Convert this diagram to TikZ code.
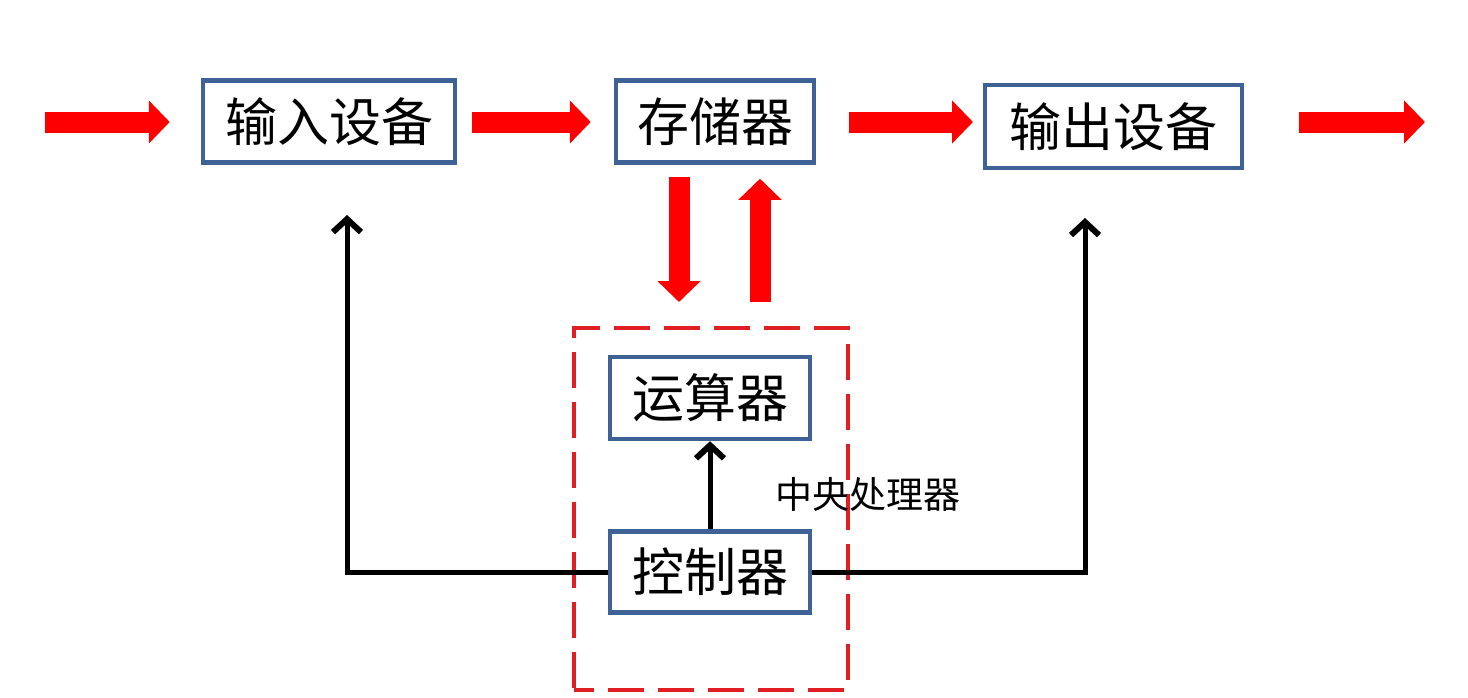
\documentclass[tikz,border=0pt]{standalone}
\usepackage{fontspec}
\setmainfont{Noto Sans CJK SC}
\usetikzlibrary{arrows.meta}
\definecolor{boxblue}{RGB}{62,98,150}
\definecolor{dashred}{RGB}{225,30,35}
\tikzset{
  unitbox/.style={draw=boxblue, line width=4.5pt, fill=white, inner sep=0pt,
    font=\fontsize{52}{60}\selectfont},
  fatarrow/.style={draw=red, line width=21pt,
    -{Triangle[length=21pt,width=42pt,fill=red,color=red]}},
  ctrlline/.style={draw=black, line width=5pt},
  ctrlarrow/.style={ctrlline, -{Straight Barb[length=13pt,width=28pt,line width=6pt]}},
}
\begin{document}
\begin{tikzpicture}[x=1pt,y=-1pt]
\useasboundingbox (0,0) rectangle (1468,697);
\fill[white] (0,0) rectangle (1468,697);

% CPU dashed frame
\node[draw=dashred, line width=4pt, dash pattern=on 36pt off 14pt, dash phase=16pt,
      minimum width=274pt, minimum height=362pt, inner sep=0pt] (cpu) at (711,508.5) {};

% boxes
\node[unitbox, minimum width=252pt, minimum height=82pt] (in)  at (329,121.5) {输入设备};
\node[unitbox, minimum width=198pt, minimum height=82pt] (mem) at (715,121.5) {存储器};
\node[unitbox, minimum width=257pt, minimum height=83pt] (out) at (1113.5,126.5) {输出设备};
\node[unitbox, minimum width=200pt, minimum height=82pt] (alu) at (710,398) {运算器};
\node[unitbox, minimum width=200pt, minimum height=81pt] (ctl) at (710,572) {控制器};

\node[font=\fontsize{37}{42}\selectfont, inner sep=0pt] (cpulabel) at (868,494) {中央处理器};

% red fat arrows
\coordinate (src) at (45,122);
\coordinate (dst) at (1425,122);
\coordinate (outin) at (985,122);
\coordinate (outout) at (1244,122);
\draw[fatarrow, shorten >=31pt] (src) -- (in.west |- src);
\draw[fatarrow, shorten <=15pt, shorten >=23pt] (in.east |- src) -- (mem.west |- src);
\draw[fatarrow, shorten <=33pt, shorten >=12pt] (mem.east |- src) -- (outin);
\draw[fatarrow, shorten <=55pt] (outout) -- (dst);

% memory <-> cpu
\coordinate (dn) at (679,302);
\coordinate (up) at (760,177);
\draw[fatarrow, shorten <=12pt] (mem.south -| dn) -- (dn);
\draw[fatarrow, shorten >=14pt] (dn -| up) -- (mem.south -| up);

% control lines
\coordinate (inarr) at (347,215);
\coordinate (outarr) at (1085,218);
\draw[ctrlarrow] (ctl.west) -| (inarr);
\draw[ctrlarrow] (ctl.east) -| (outarr);
\draw[ctrlarrow] (ctl.north) -- (alu.south);
\end{tikzpicture}
\end{document}
